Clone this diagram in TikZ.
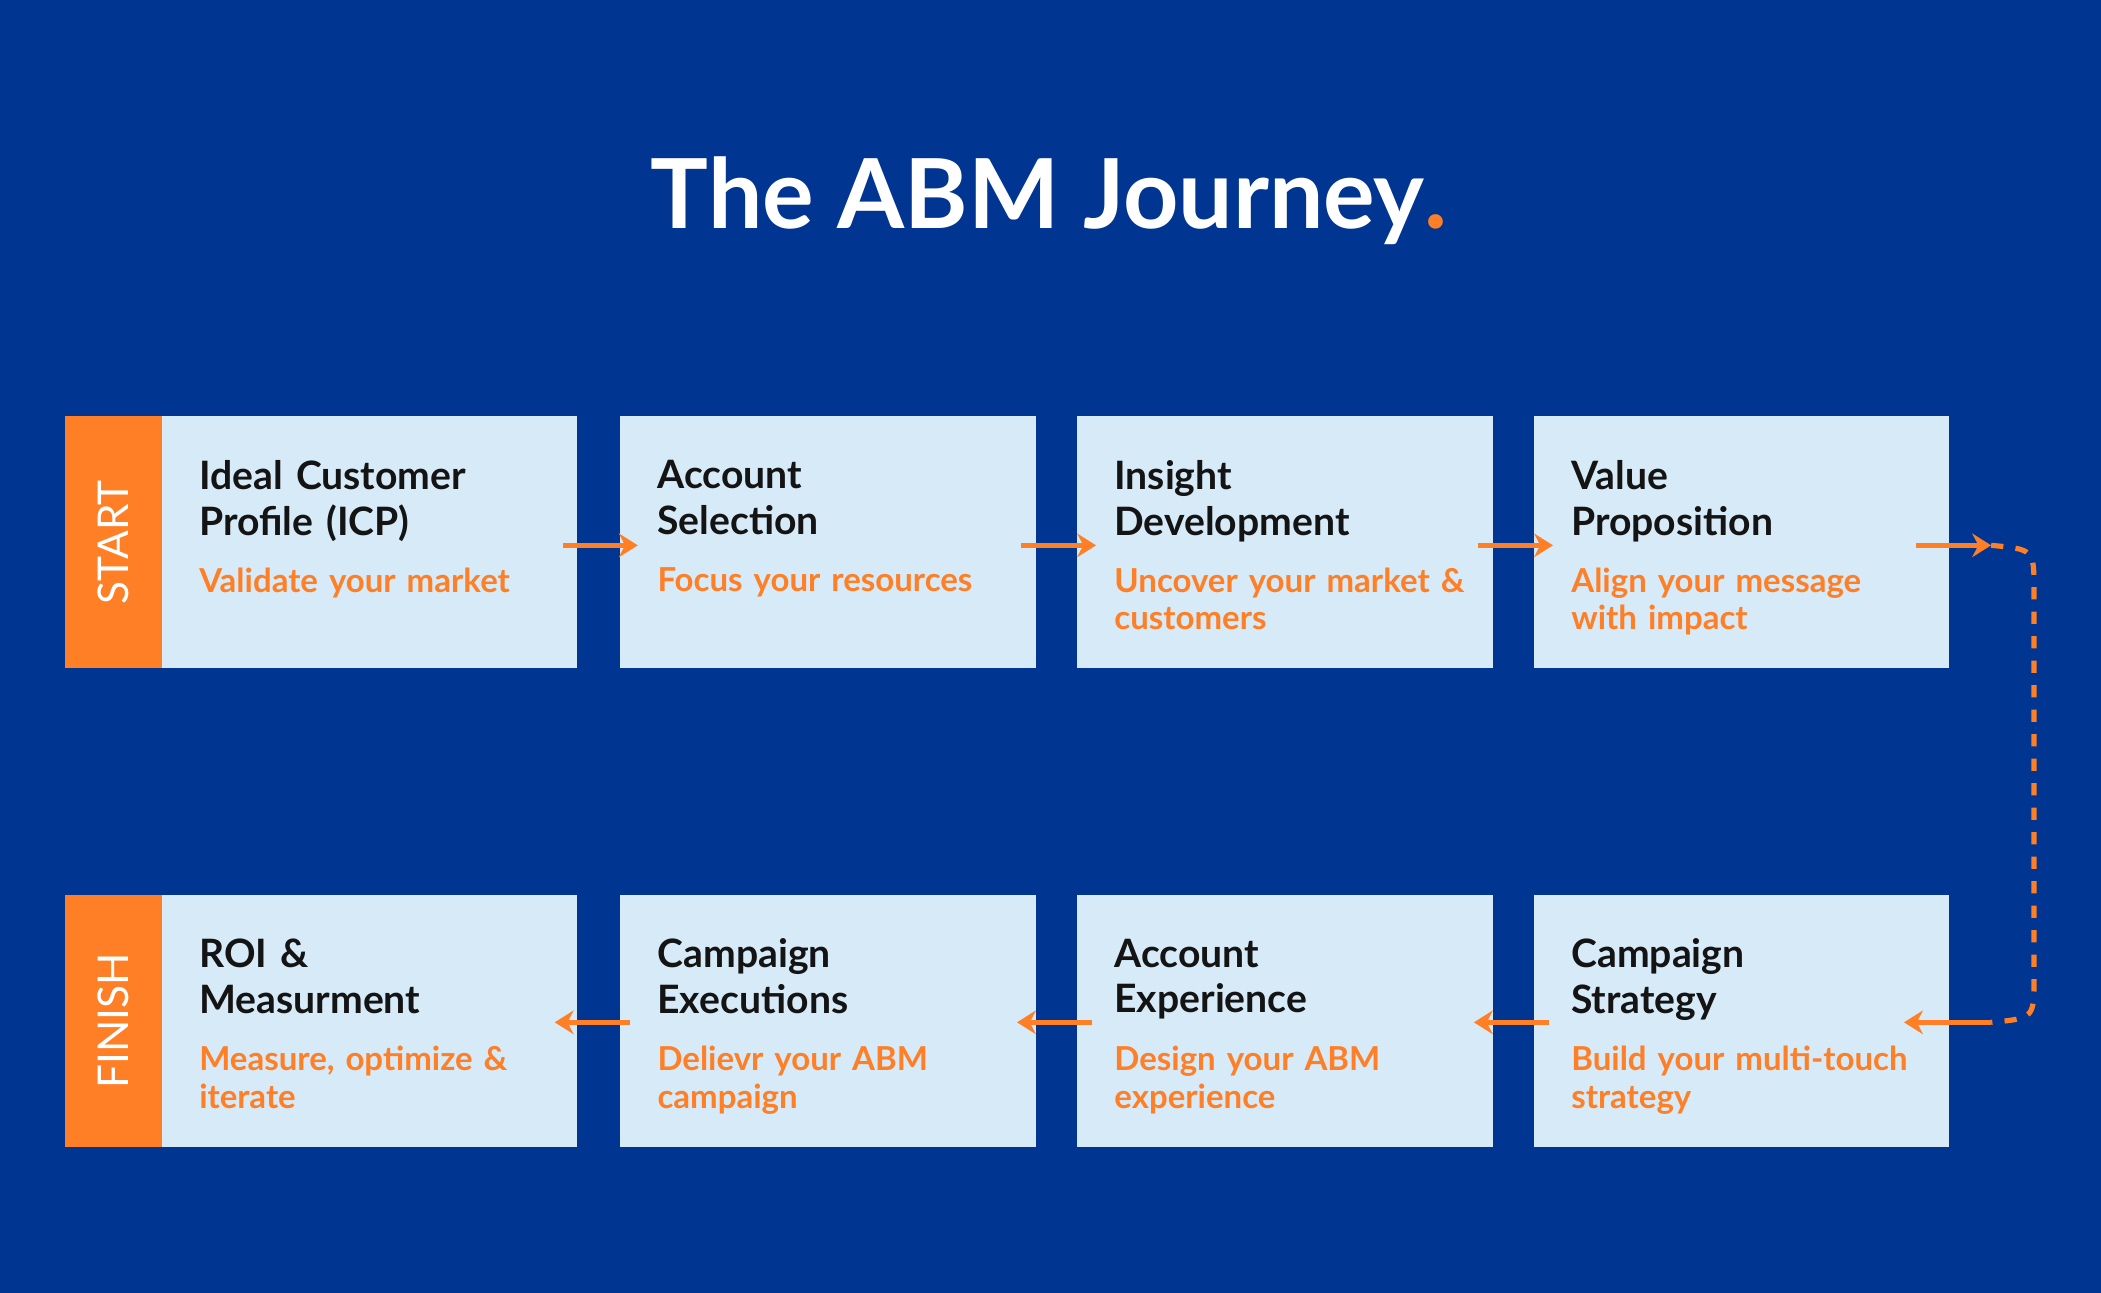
\documentclass[tikz,border=0pt]{standalone}
\usepackage{fontspec}
\setmainfont{Lato}
\usetikzlibrary{arrows.meta}
\definecolor{abmblue}{HTML}{003591}
\definecolor{abmbox}{HTML}{D6EAF7}
\definecolor{abmorange}{HTML}{FF7F27}
\definecolor{abmtext}{HTML}{141414}
\tikzset{
  stage/.style={fill=abmbox, minimum width=3.1cm, minimum height=1.88cm, anchor=north west, inner sep=0},
  strip/.style={fill=abmorange, minimum width=0.72cm, minimum height=1.88cm, anchor=north west, inner sep=0},
  head/.style={anchor=north west, align=left, text width=2.9cm, font=\fontsize{8.3}{9.7}\selectfont\bfseries, text=abmtext, inner sep=0},
  sub/.style={anchor=north west, align=left, text width=2.9cm, font=\fontsize{7}{8}\selectfont\bfseries, text=abmorange, inner sep=0},
  flow/.style={abmorange, line width=1.1pt, -{Stealth[length=4pt, width=5pt]}}
}
\begin{document}
\begin{tikzpicture}[x=0.01cm, y=-0.01cm]
\fill[abmblue] (0,0) rectangle (1568,965);
% Title
\node (title) at (783,150) {\fontsize{20.5}{24}\selectfont\bfseries\color{white}The ABM Journey\textcolor{abmorange}{.}};
% Start / finish strips
\node[strip] (start) at (48,310) {};
\node[strip] (finish) at (48,667) {};
\node[rotate=90, text=white, font=\fontsize{9}{10}\selectfont] at (start.center) {START};
\node[rotate=90, text=white, font=\fontsize{9}{10}\selectfont] at (finish.center) {FINISH};
% Top row
\node[stage] (icp) at (120,310) {};
\node[stage] (sel) at (462,310) {};
\node[stage] (ins) at (803,310) {};
\node[stage] (val) at (1144,310) {};
% Bottom row
\node[stage] (roi) at (120,667) {};
\node[stage] (exe) at (462,667) {};
\node[stage] (exp) at (803,667) {};
\node[stage] (str) at (1144,667) {};
% Texts
\node[head] (icp-h) at (148,343) {Ideal Customer\\Profile (ICP)};
\node[sub] at (148,423) {Validate your market};
\node[head] (sel-h) at (490,343) {Account\\Selection};
\node[sub] at (490,423) {Focus your resources};
\node[head] (ins-h) at (831,343) {Insight\\Development};
\node[sub] at (831,423) {Uncover your market \&\\customers};
\node[head] (val-h) at (1172,343) {Value\\Proposition};
\node[sub] at (1172,423) {Align your message\\with impact};
\node[head] (roi-h) at (148,700) {ROI \&\\Measurment};
\node[sub] at (148,780) {Measure, optimize \&\\iterate};
\node[head] (exe-h) at (490,700) {Campaign\\Executions};
\node[sub] at (490,780) {Delievr your ABM\\campaign};
\node[head] (exp-h) at (831,700) {Account\\Experience};
\node[sub] at (831,780) {Design your ABM\\experience};
\node[head] (str-h) at (1172,700) {Campaign\\Strategy};
\node[sub] at (1172,780) {Build your multi-touch\\strategy};
% Connectors
\coordinate (a1) at (420,407); \coordinate (b1) at (476,407);
\coordinate (a2) at (762,407); \coordinate (b2) at (818,407);
\coordinate (a3) at (1103,407); \coordinate (b3) at (1159,407);
\coordinate (a4) at (1430,407); \coordinate (b4) at (1486,407);
\coordinate (c1) at (470,763); \coordinate (d1) at (414,763);
\coordinate (c2) at (815,763); \coordinate (d2) at (759,763);
\coordinate (c3) at (1156,763); \coordinate (d3) at (1100,763);
\coordinate (c4) at (1486,763); \coordinate (d4) at (1421,763);
\draw[flow] (a1) -- (b1);
\draw[flow] (a2) -- (b2);
\draw[flow] (a3) -- (b3);
\draw[flow] (a4) -- (b4);
\draw[flow] (c1) -- (d1);
\draw[flow] (c2) -- (d2);
\draw[flow] (c3) -- (d3);
\draw[abmorange, line width=1.1pt, dash pattern=on 2.6pt off 2.6pt]
  (b4) .. controls (1518,410) .. (1518,440) -- (1518,730) .. controls (1518,760) .. (c4);
\draw[flow] (c4) -- (d4);
\end{tikzpicture}
\end{document}
